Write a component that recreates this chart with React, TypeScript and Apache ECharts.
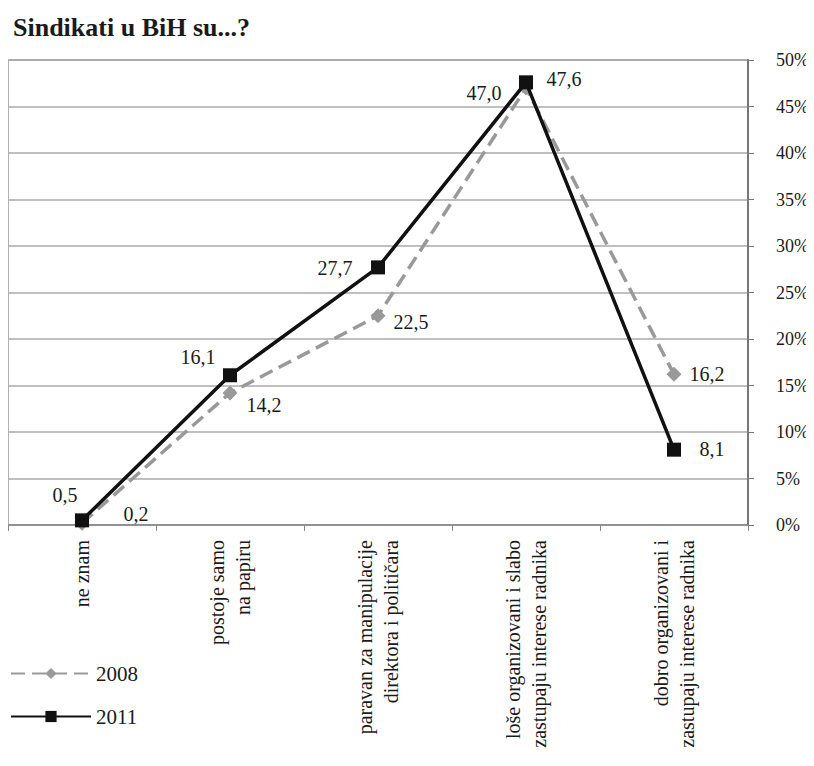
import React, { useEffect, useRef } from "react";
import * as echarts from "echarts";

const title = "Sindikati u BiH su...?";
const categories = [
  "ne znam",
  "postoje samo\nna papiru",
  "paravan za manipulacije\ndirektora i političara",
  "loše organizovani i slabo\nzastupaju interese radnika",
  "dobro organizovani i\nzastupaju interese radnika",
];
const values2008 = [0.2, 14.2, 22.5, 47.0, 16.2];
const values2011 = [0.5, 16.1, 27.7, 47.6, 8.1];
const yTicks = [0, 5, 10, 15, 20, 25, 30, 35, 40, 45, 50];

const offsets2008: [number, number][] = [[54, -9], [34, 12], [33, 6], [-42, 5], [33, 0]];
const offsets2011: [number, number][] = [[-17, -25], [-32, -18], [-43, 1], [38, -3], [38, -1]];

const FONT = "Liberation Serif";

export default function App() {
  const ref = useRef<HTMLDivElement>(null);
  useEffect(() => {
    if (!ref.current) return;
    const chart = echarts.init(ref.current, undefined, { renderer: "svg" });
    const fmt = (v: number) => v.toFixed(1).replace(".", ",");
    const mk = (vals: number[], offs: [number, number][]) =>
      vals.map((v, i) => ({
        value: v,
        label: { offset: offs[i] },
      }));
    const labelStyle = {
      show: true,
      position: "inside",
      fontFamily: FONT,
      fontSize: 20,
      color: "#1a1a1a",
      formatter: (p: any) => fmt(p.value),
    };
    chart.setOption({
      animation: false,
      textStyle: { fontFamily: FONT },
      title: {
        text: title,
        left: 0,
        top: 1,
        textStyle: { fontFamily: FONT, fontSize: 26, fontWeight: "bold", color: "#1a1a1a" },
      },
      grid: {
        left: 0,
        right: 66,
        top: 52,
        bottom: 241,
        show: true,
        borderColor: "#999",
        borderWidth: 1.5,
      },
      legend: {
        orient: "vertical",
        left: 2,
        top: 655,
        padding: 0,
        itemWidth: 80,
        itemHeight: 14,
        itemGap: 22,
        textStyle: { fontFamily: FONT, fontSize: 21, color: "#1a1a1a" },
        data: ["2008", "2011"],
      },
      xAxis: {
        type: "category",
        data: categories,
        boundaryGap: true,
        axisLine: { lineStyle: { color: "#888", width: 1.5 } },
        axisTick: { show: true, length: 6, lineStyle: { color: "#888" } },
        axisLabel: {
          rotate: 90,
          margin: 15,
          fontFamily: FONT,
          fontSize: 20,
          color: "#1a1a1a",
          lineHeight: 26,
          interval: 0,
        },
      },
      yAxis: {
        type: "value",
        position: "right",
        min: 0,
        max: 50,
        interval: 5,
        axisLine: { show: true, lineStyle: { color: "#777", width: 2 } },
        axisTick: { show: true, length: 6, lineStyle: { color: "#777" } },
        axisLabel: {
          margin: 28,
          fontFamily: FONT,
          fontSize: 18,
          color: "#1a1a1a",
          formatter: (v: number) => (yTicks.includes(v) ? v + "%" : ""),
        },
        splitLine: { show: true, lineStyle: { color: "#aaa", width: 1.5 } },
      },
      series: [
        {
          name: "2008",
          type: "line",
          data: mk(values2008, offsets2008),
          symbol: "diamond",
          symbolSize: 15,
          itemStyle: { color: "#999" },
          lineStyle: { color: "#999", width: 3.5, type: [14, 7] },
          label: labelStyle,
          z: 2,
        },
        {
          name: "2011",
          type: "line",
          data: mk(values2011, offsets2011),
          symbol: "rect",
          symbolSize: 14,
          itemStyle: { color: "#111" },
          lineStyle: { color: "#111", width: 3.5 },
          label: labelStyle,
          z: 3,
        },
      ],
    });
    return () => chart.dispose();
  }, []);
  return <div ref={ref} style={{ width: 806, height: 758 }} />;
}
